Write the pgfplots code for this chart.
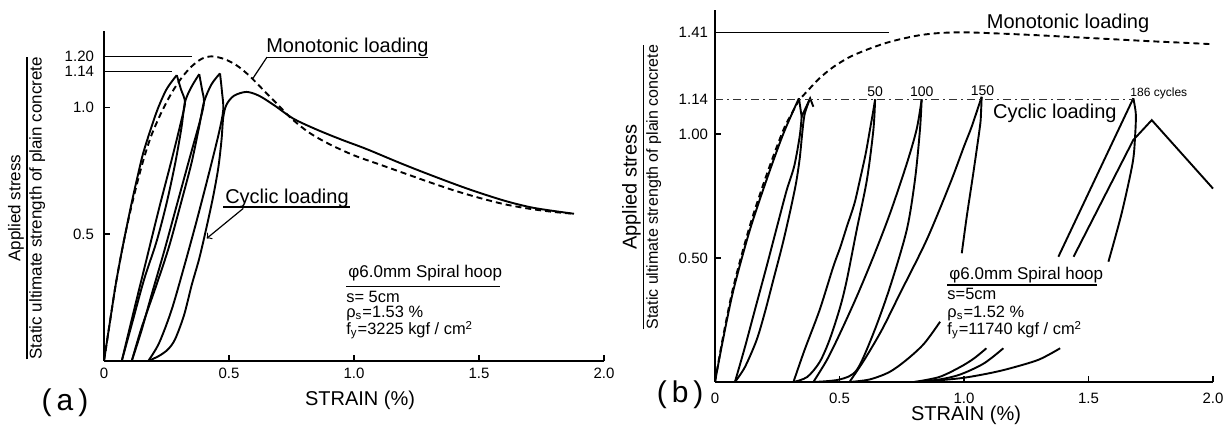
\documentclass[border=0pt]{standalone}
\usepackage{fontspec}
\setmainfont{Liberation Sans}
\usepackage{pgfplots}
\pgfplotsset{compat=1.18}
\tikzset{spec/.style={anchor=base west, inner sep=0pt, font=\fontsize{8.2}{9}\selectfont}}
\begin{document}
\begin{tikzpicture}[font=\fontsize{9}{10}\selectfont]
\useasboundingbox (0,0) rectangle (612.5pt,213.5pt);
\pgfplotsset{
  base/.style={scale only axis, axis lines=left, axis line style={-, line width=0.8pt},
    xmin=0, xmax=2, ymin=0, clip=false, tick align=inside, major tick length=3pt,
    tick style={line width=0.6pt, black}, xtick={0,0.5,1,1.5,2},
    xticklabels={0,0.5,1.0,1.5,2.0},
    tick label style={font=\fontsize{7.5}{9}\selectfont},
    every axis plot/.append style={mark=none}},
  cur/.style={black, line width=0.95pt, smooth, tension=0.5},
  seg/.style={black, line width=0.95pt},
  mono/.style={black, line width=0.95pt, dash pattern=on 3pt off 2pt, smooth, tension=0.5},
}
% ---------------- panel (a) ----------------
\begin{axis}[base, at={(52pt,33pt)}, anchor=south west, width=250pt, height=165pt,
  ymax=1.30, ytick={0.5,1.0,1.14,1.20}, yticklabels={0.5,1.0,1.14,1.20},
  yticklabel style={xshift=-1.5pt}]
\addplot[mono] coordinates {(0,0)(0.02,0.13)(0.045,0.29)(0.065,0.40)(0.085,0.50)(0.11,0.61)(0.135,0.71)(0.16,0.80)(0.19,0.89)(0.23,0.98)(0.27,1.055)(0.31,1.115)(0.35,1.16)(0.39,1.19)(0.43,1.20)(0.48,1.19)(0.53,1.165)(0.58,1.125)(0.63,1.075)(0.69,1.015)(0.75,0.955)(0.82,0.9)(0.9,0.855)(1.0,0.81)(1.1,0.775)(1.2,0.74)(1.3,0.705)(1.4,0.672)(1.5,0.643)(1.6,0.618)(1.7,0.6)(1.8,0.587)(1.88,0.58)};
\addplot[cur] coordinates {(0,0)(0.02,0.13)(0.045,0.29)(0.065,0.40)(0.085,0.50)(0.11,0.62)(0.135,0.73)(0.16,0.83)(0.21,0.98)(0.25,1.07)(0.291,1.126)};
\addplot[cur] coordinates {(0.291,1.126)(0.308,1.07)(0.324,1.02)(0.31,0.95)(0.27,0.79)(0.22,0.60)(0.17,0.40)(0.12,0.20)(0.071,0)};
\addplot[cur] coordinates {(0.071,0)(0.11,0.14)(0.16,0.32)(0.21,0.47)(0.25,0.62)(0.285,0.78)(0.31,0.92)(0.324,1.02)(0.35,1.08)(0.381,1.13)};
\addplot[cur] coordinates {(0.381,1.13)(0.392,1.07)(0.400,1.02)(0.385,0.95)(0.34,0.79)(0.29,0.61)(0.24,0.43)(0.19,0.26)(0.15,0.12)(0.111,0)};
\addplot[cur] coordinates {(0.111,0)(0.15,0.13)(0.21,0.30)(0.26,0.45)(0.31,0.63)(0.35,0.78)(0.38,0.92)(0.40,1.02)(0.43,1.09)(0.464,1.133)};
\addplot[cur] coordinates {(0.464,1.133)(0.472,1.06)(0.477,0.99)(0.46,0.9)(0.42,0.74)(0.37,0.55)(0.32,0.37)(0.27,0.2)(0.22,0.07)(0.177,0)};
\addplot[cur] coordinates {(0.177,0)(0.22,0.02)(0.255,0.045)(0.284,0.085)(0.32,0.18)(0.351,0.30)(0.38,0.40)(0.404,0.50)(0.435,0.64)(0.457,0.76)(0.47,0.87)(0.477,0.96)(0.49,1.01)(0.52,1.045)(0.57,1.06)(0.62,1.045)(0.68,1.008)(0.757,0.955)(0.85,0.912)(0.95,0.872)(1.05,0.835)(1.184,0.78)(1.3,0.735)(1.45,0.68)(1.6,0.632)(1.72,0.603)(1.88,0.58)};
% reference lines
\draw[line width=0.6pt] (0,1.20) -- (0.35,1.20);
\draw[line width=0.6pt] (0,1.14) -- (0.27,1.14);
% annotations
\node[font=\fontsize{10}{12}\selectfont] at (0.974,1.236) {Monotonic loading};
\draw[line width=0.6pt] (0.652,1.197) -- (1.296,1.197);
\draw[line width=0.6pt] (0.652,1.197) -- (0.596,1.114);
\node[font=\fontsize{10}{12}\selectfont] at (0.732,0.642) {Cyclic loading};
\draw[line width=0.6pt] (0.476,0.607) -- (0.984,0.607);
\draw[line width=0.6pt, ->] (0.557,0.601) -- (0.411,0.483);
\node[anchor=west, inner sep=1pt, font=\fontsize{8.5}{10}\selectfont] at (0.968,0.346) {φ6.0mm Spiral hoop};
\draw[line width=0.6pt] (0.968,0.295) -- (1.584,0.295);
\node[spec] at (0.968,0.232) {s= 5cm};
\node[spec] at (0.968,0.170) {ρ\textsubscript{s}=1.53 \%};
\node[spec] at (0.968,0.103) {f\textsubscript{y}=3225 kgf / cm\textsuperscript{2}};
\node[font=\fontsize{10}{12}\selectfont] at (1.024,-0.154) {STRAIN (\%)};
\node[font=\fontsize{15}{16}\selectfont] at (-0.156,-0.165) {(\,a\,)};
\node[rotate=90, font=\fontsize{8.5}{10}\selectfont] at (-0.308,0.602)
  {\setlength{\arrayrulewidth}{0.6pt}\begin{tabular}{@{}c@{}}Applied stress\\\hline Static ultimate strength of plain concrete\end{tabular}};
\end{axis}
% ---------------- panel (b) ----------------
\begin{axis}[base, at={(357.5pt,22.5pt)}, anchor=south west, width=249pt, height=186pt,
  ymax=1.5, ytick={0.5,1.0,1.14,1.41}, yticklabels={0.50,1.00,1.14,1.41},
  xticklabel style={yshift=-2pt}]
\addplot[mono] coordinates {(0,0)(0.03,0.17)(0.074,0.385)(0.14,0.63)(0.207,0.835)(0.274,1.015)(0.315,1.095)(0.337,1.135)(0.368,1.17)(0.42,1.225)(0.475,1.27)(0.54,1.31)(0.61,1.34)(0.68,1.365)(0.743,1.382)(0.82,1.398)(0.9,1.407)(1.0,1.41)(1.145,1.405)(1.3,1.398)(1.45,1.39)(1.6,1.382)(1.75,1.374)(1.88,1.368)(2.0,1.362)};
\addplot[cur] coordinates {(0,0)(0.03,0.16)(0.074,0.371)(0.14,0.613)(0.207,0.815)(0.274,1.0)(0.337,1.144)};
\addplot[seg] coordinates {(0.337,1.144)(0.348,1.07)(0.382,1.144)(0.395,1.11)};
\addplot[cur] coordinates {(0.348,1.07)(0.34,0.99)(0.318,0.87)(0.288,0.774)(0.25,0.63)(0.207,0.465)(0.16,0.29)(0.12,0.14)(0.08,0)};
\addplot[cur] coordinates {(0.08,0)(0.12,0.06)(0.167,0.169)(0.2,0.28)(0.234,0.411)(0.27,0.55)(0.30,0.68)(0.325,0.8)(0.34,0.9)(0.35,1.0)(0.36,1.08)(0.382,1.144)};
% cycle 50
\addplot[cur] coordinates {(0.315,0)(0.36,0.13)(0.42,0.29)(0.475,0.465)(0.502,0.54)(0.529,0.625)(0.56,0.72)(0.582,0.815)(0.605,0.92)(0.622,1.016)(0.635,1.09)(0.643,1.14)};
\addplot[cur] coordinates {(0.643,1.14)(0.636,1.016)(0.61,0.815)(0.569,0.613)(0.529,0.41)(0.502,0.30)(0.46,0.17)(0.42,0.08)(0.37,0.02)(0.315,0)};
% cycle 100
\addplot[cur] coordinates {(0.395,0)(0.45,0.09)(0.502,0.196)(0.569,0.344)(0.636,0.505)(0.703,0.68)(0.77,0.88)(0.81,1.02)(0.83,1.14)};
\addplot[cur] coordinates {(0.83,1.14)(0.823,1.016)(0.803,0.815)(0.77,0.613)(0.703,0.384)(0.636,0.196)(0.569,0.048)(0.5,0.01)(0.395,0)};
% cycle 150
\addplot[cur] coordinates {(0.54,0)(0.6,0.09)(0.67,0.21)(0.743,0.357)(0.85,0.573)(0.944,0.80)(1.0,0.95)(1.031,1.03)(1.071,1.15)};
\addplot[cur] coordinates {(1.071,1.15)(1.068,1.08)(1.064,1.03)(1.037,0.84)(1.011,0.667)(0.991,0.519)};
\addplot[cur] coordinates {(0.54,0)(0.62,0.01)(0.70,0.04)(0.77,0.09)(0.84,0.155)(0.904,0.243)};
% cycle 186
\addplot[cur] coordinates {(0.80,0)(0.9,0.02)(0.984,0.06)(1.04,0.095)(1.09,0.136)};
\addplot[cur] coordinates {(0.80,0)(0.9,0.01)(0.984,0.03)(1.08,0.075)(1.158,0.136)};
\addplot[cur] coordinates {(0.82,0)(0.984,0.015)(1.1,0.035)(1.185,0.055)(1.3,0.09)(1.386,0.136)};
\addplot[seg] coordinates {(1.379,0.505)(1.68,1.144)};
\addplot[cur] coordinates {(1.68,1.144)(1.69,1.08)(1.687,0.99)(1.677,0.882)(1.633,0.68)(1.58,0.485)};
\addplot[seg] coordinates {(1.44,0.505)(1.68,0.976)(1.754,1.056)(2.0,0.78)};
% reference lines
\draw[line width=0.5pt] (0,1.41) -- (0.70,1.41);
\draw[line width=0.4pt, black!80, dash pattern=on 4pt off 2pt on 1pt off 2pt] (0,1.14) -- (1.68,1.14);
% annotations
\node[font=\fontsize{10}{12}\selectfont] at (1.418,1.448) {Monotonic loading};
\node[font=\fontsize{10}{12}\selectfont] at (1.365,1.085) {Cyclic loading};
\node[font=\fontsize{7}{8}\selectfont] at (0.643,1.17) {50};
\node[font=\fontsize{7}{8}\selectfont] at (0.83,1.17) {100};
\node[font=\fontsize{7}{8}\selectfont] at (1.074,1.173) {150};
\node[anchor=west, inner sep=0pt, font=\fontsize{6}{7}\selectfont] at (1.667,1.165) {186 cycles};
\node[anchor=west, inner sep=1pt, font=\fontsize{8.5}{10}\selectfont] at (0.932,0.431) {φ6.0mm Spiral hoop};
\draw[line width=0.6pt] (0.932,0.391) -- (1.534,0.391);
\node[spec] at (0.932,0.331) {s=5cm};
\node[spec] at (0.932,0.262) {ρ\textsubscript{s}=1.52 \%};
\node[spec] at (0.932,0.190) {f\textsubscript{y}=11740 kgf / cm\textsuperscript{2}};
\node[font=\fontsize{10}{12}\selectfont] at (1.008,-0.133) {STRAIN (\%)};
\node[font=\fontsize{15}{16}\selectfont] at (-0.14,-0.052) {(\,b\,)};
\node[rotate=90] at (-0.289,0.786)
  {\setlength{\arrayrulewidth}{0.6pt}\begin{tabular}{@{}c@{}}\fontsize{10}{12}\selectfont Applied stress\\\hline \fontsize{8}{10}\selectfont Static ultimate strength of plain concrete\end{tabular}};
\end{axis}
\end{tikzpicture}
\end{document}
